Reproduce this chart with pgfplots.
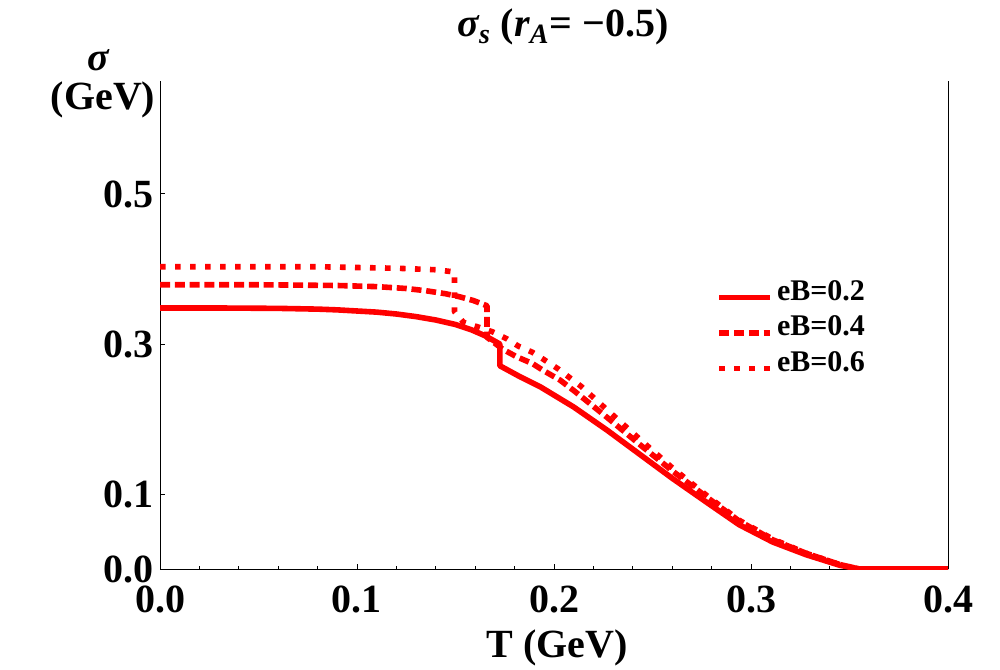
\documentclass[border=0pt]{standalone}
\usepackage{fontspec}
\setmainfont{Liberation Serif}
\usepackage{pgfplots}
\pgfplotsset{compat=1.18}
\definecolor{myred}{RGB}{255,0,0}
\begin{document}
\begin{tikzpicture}
\begin{axis}[
  name=ax, at={(0,0)}, anchor=south west,
  scale only axis, width=394pt, height=243.75pt,
  xmin=0, xmax=0.4, ymin=0, ymax=0.65,
  axis x line*=bottom, axis y line*=left,
  axis line style={-, line width=0.5pt, black},
  xtick={0,0.1,0.2,0.3,0.4}, xticklabels={0.0,0.1,0.2,0.3,0.4},
  ytick={0,0.1,0.3,0.5}, yticklabels={0.0,0.1,0.3,0.5},
  minor x tick num=4,
  tick align=inside,
  major tick length=2.5pt, minor tick length=1.5pt,
  tick style={black, line width=0.5pt},
  tick label style={font=\bfseries\fontsize{20}{24}\selectfont, inner sep=0pt},
  xticklabel style={anchor=north, yshift=-8pt},
  yticklabel style={anchor=east, xshift=-3pt},
  legend cell align=left,
  legend style={draw=none, fill=none, at={(0.7056,0.597)}, anchor=north west,
    inner sep=0pt, row sep=3.7pt, column sep=2pt,
    font=\bfseries\fontsize{15}{17}\selectfont,
    nodes={inner sep=0pt, text height=11pt, text depth=3pt}},
  legend image code/.code={\draw[#1] (0pt,-2.6pt) -- (25.5pt,-2.6pt);},
]
\addplot[myred, line width=2.8pt, line join=round] coordinates {
(0,0.348)(0.03,0.348)(0.06,0.3475)(0.08,0.3465)(0.09,0.3455)(0.10,0.344)(0.11,0.3425)(0.12,0.340)(0.13,0.3365)(0.14,0.332)(0.15,0.326)(0.158,0.319)(0.165,0.311)(0.1725,0.300)(0.1725,0.271)(0.183,0.256)(0.193,0.243)(0.210,0.216)(0.227,0.185)(0.244,0.152)(0.260,0.121)(0.278,0.088)(0.294,0.059)(0.311,0.036)(0.328,0.019)(0.345,0.005)(0.355,0)(0.4,0)
};
\addlegendentry{eB=0.2}
\addplot[myred, line width=2.8pt, line join=round, dash pattern=on 5pt off 2.4pt] coordinates {
(0,0.379)(0.05,0.379)(0.09,0.378)(0.11,0.3765)(0.125,0.374)(0.135,0.371)(0.145,0.367)(0.152,0.363)(0.159,0.358)(0.166,0.351)(0.166,0.309)(0.174,0.293)(0.181,0.283)(0.189,0.274)(0.195,0.264)(0.203,0.252)(0.210,0.238)(0.227,0.202)(0.244,0.165)(0.260,0.131)(0.278,0.095)(0.294,0.064)(0.311,0.039)(0.328,0.021)(0.345,0.006)(0.355,0)(0.4,0)
};
\addlegendentry{eB=0.4}
\addplot[myred, line width=2.8pt, line join=round, dash pattern=on 2.8pt off 4.7pt] coordinates {
(0,0.403)(0.08,0.403)(0.12,0.401)(0.14,0.399)(0.1495,0.396)(0.1495,0.343)(0.154,0.329)(0.161,0.323)(0.169,0.316)(0.176,0.307)(0.182,0.297)(0.189,0.289)(0.195,0.279)(0.202,0.267)(0.208,0.255)(0.214,0.243)(0.227,0.212)(0.244,0.172)(0.260,0.135)(0.278,0.097)(0.294,0.065)(0.311,0.040)(0.328,0.021)(0.345,0.006)(0.355,0)(0.4,0)
};
\addlegendentry{eB=0.6}
\end{axis}
\draw[black, line width=0.5pt] (ax.south east) -- (ax.north east);
\node[anchor=base, font=\bfseries\fontsize{20}{24}\selectfont] at (201.5pt,266pt) {\textit{σ\textsubscript{s}} (\textit{r\textsubscript{A}}= −0.5)};
\node[anchor=base, font=\bfseries\fontsize{20}{24}\selectfont, inner sep=0pt] at (-30.5pt,249pt) {\textit{σ}};
\node[anchor=base, font=\bfseries\fontsize{20}{24}\selectfont, inner sep=0pt] at (-28.5pt,229.5pt) {(GeV)};
\node[anchor=base, font=\bfseries\fontsize{20}{24}\selectfont] at (198.5pt,-44pt) {T (GeV)};
\pgfresetboundingbox
\path (-80pt,-50pt) rectangle (420pt,284.5pt);
\end{tikzpicture}
\end{document}
